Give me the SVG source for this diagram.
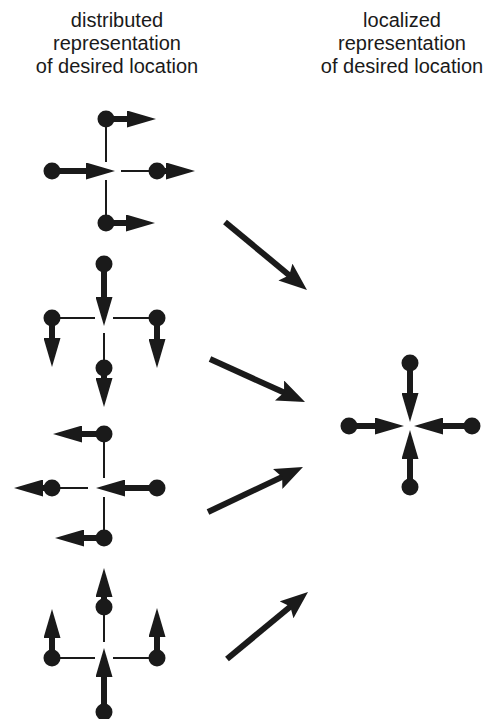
<svg xmlns="http://www.w3.org/2000/svg" width="489" height="719" viewBox="0 0 489 719">
<style>
  text { font-family: "Liberation Sans", Arial, sans-serif; font-size: 20px; fill: #1a1a1a; text-anchor: middle; }
  .thin { stroke: #1a1a1a; stroke-width: 2; fill: none; }
  .vec { stroke: #1a1a1a; stroke-width: 6; fill: none; marker-end: url(#sh); }
  .big { stroke: #1a1a1a; stroke-width: 6; fill: none; marker-end: url(#bh); }
  .dot { fill: #1a1a1a; }
</style>
<defs>
  <marker id="sh" markerUnits="userSpaceOnUse" viewBox="0 0 29 17" markerWidth="29" markerHeight="17" refX="0" refY="8.5" orient="auto">
    <path d="M0,0 L29,8.5 L0,17 z" fill="#1a1a1a"/>
  </marker>
  <marker id="bh" markerUnits="userSpaceOnUse" viewBox="0 0 28 22" markerWidth="28" markerHeight="22" refX="8" refY="11" orient="auto">
    <path d="M0,0 L28,11 L0,22 L5,11 z" fill="#1a1a1a"/>
  </marker>
</defs>

<g id="title-left">
  <text x="117" y="27">distributed</text>
  <text x="117" y="50">representation</text>
  <text x="117" y="73">of desired location</text>
</g>
<g id="title-right">
  <text x="402" y="27">localized</text>
  <text x="402" y="50">representation</text>
  <text x="402" y="73">of desired location</text>
</g>

<g id="panel-right-shift">
  <line class="thin" x1="106" y1="119" x2="106" y2="162"/>
  <line class="thin" x1="121" y1="171" x2="157" y2="171"/>
  <line class="thin" x1="106" y1="180" x2="106" y2="223"/>
  <line class="vec" x1="106" y1="119" x2="127" y2="119"/>
  <line class="vec" x1="52" y1="171" x2="86" y2="171"/>
  <line class="vec" x1="157" y1="171" x2="166" y2="171"/>
  <line class="vec" x1="106" y1="223" x2="126" y2="223"/>
  <circle class="dot" cx="106" cy="119" r="8.5"/>
  <circle class="dot" cx="52" cy="171" r="8.5"/>
  <circle class="dot" cx="157" cy="171" r="8.5"/>
  <circle class="dot" cx="106" cy="223" r="8.5"/>
</g>

<g id="panel-down-shift">
  <line class="thin" x1="52" y1="318" x2="95" y2="318"/>
  <line class="thin" x1="113" y1="318" x2="157" y2="318"/>
  <line class="thin" x1="104" y1="333" x2="104" y2="368"/>
  <line class="vec" x1="104" y1="264" x2="104" y2="297"/>
  <line class="vec" x1="52" y1="318" x2="52" y2="338"/>
  <line class="vec" x1="157" y1="318" x2="157" y2="339"/>
  <line class="vec" x1="104" y1="368" x2="104" y2="378"/>
  <circle class="dot" cx="104" cy="264" r="8.5"/>
  <circle class="dot" cx="52" cy="318" r="8.5"/>
  <circle class="dot" cx="157" cy="318" r="8.5"/>
  <circle class="dot" cx="104" cy="368" r="8.5"/>
</g>

<g id="panel-left-shift">
  <line class="thin" x1="104" y1="434" x2="104" y2="478"/>
  <line class="thin" x1="52" y1="488" x2="88" y2="488"/>
  <line class="thin" x1="104" y1="497" x2="104" y2="538"/>
  <line class="vec" x1="104" y1="434" x2="82" y2="434"/>
  <line class="vec" x1="52" y1="488" x2="43" y2="488"/>
  <line class="vec" x1="157" y1="488" x2="125" y2="488"/>
  <line class="vec" x1="104" y1="538" x2="84" y2="538"/>
  <circle class="dot" cx="104" cy="434" r="8.5"/>
  <circle class="dot" cx="52" cy="488" r="8.5"/>
  <circle class="dot" cx="157" cy="488" r="8.5"/>
  <circle class="dot" cx="104" cy="538" r="8.5"/>
</g>

<g id="panel-up-shift">
  <line class="thin" x1="104" y1="607" x2="104" y2="642"/>
  <line class="thin" x1="52" y1="658" x2="95" y2="658"/>
  <line class="thin" x1="113" y1="658" x2="157" y2="658"/>
  <line class="vec" x1="104" y1="607" x2="104" y2="597"/>
  <line class="vec" x1="52" y1="658" x2="52" y2="638"/>
  <line class="vec" x1="157" y1="658" x2="157" y2="637"/>
  <line class="vec" x1="104" y1="712" x2="104" y2="677"/>
  <circle class="dot" cx="104" cy="607" r="8.5"/>
  <circle class="dot" cx="52" cy="658" r="8.5"/>
  <circle class="dot" cx="157" cy="658" r="8.5"/>
  <circle class="dot" cx="104" cy="712" r="8.5"/>
</g>

<g id="panel-localized">
  <line class="vec" x1="410" y1="363" x2="410" y2="393"/>
  <line class="vec" x1="349" y1="426" x2="375" y2="426"/>
  <line class="vec" x1="472" y1="426" x2="443" y2="426"/>
  <line class="vec" x1="410" y1="487" x2="410" y2="459"/>
  <circle class="dot" cx="410" cy="363" r="8.5"/>
  <circle class="dot" cx="349" cy="426" r="8.5"/>
  <circle class="dot" cx="472" cy="426" r="8.5"/>
  <circle class="dot" cx="410" cy="487" r="8.5"/>
</g>

<g id="connectors">
  <line class="big" x1="225" y1="222" x2="291.6" y2="277.2"/>
  <line class="big" x1="210" y1="359" x2="286.8" y2="393.8"/>
  <line class="big" x1="208" y1="512" x2="284.9" y2="475.6"/>
  <line class="big" x1="227" y1="659" x2="292.6" y2="604.7"/>
</g>
</svg>
